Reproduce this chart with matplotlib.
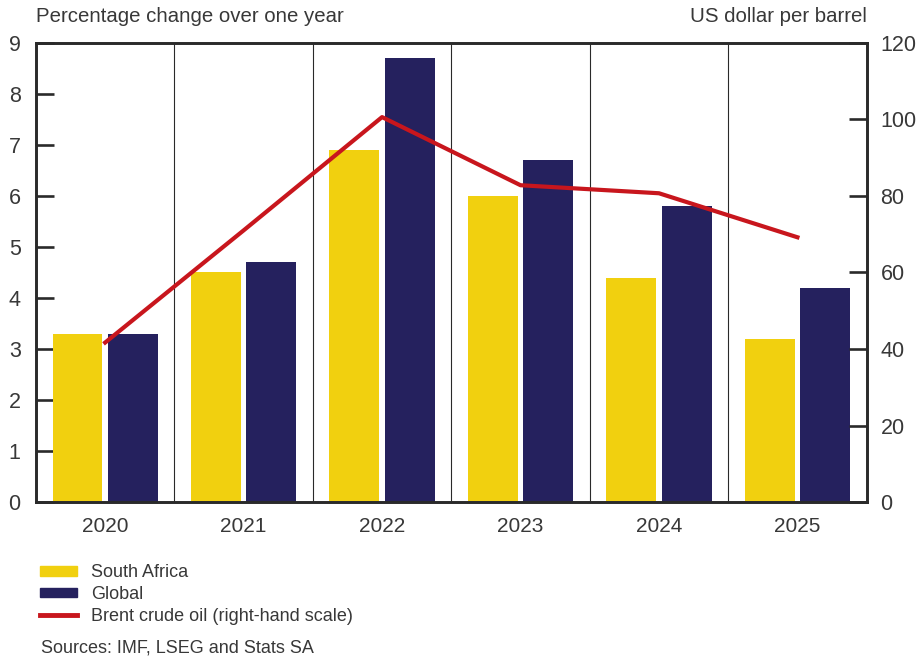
import numpy as np
import matplotlib
matplotlib.use("Agg")
import matplotlib.pyplot as plt
from matplotlib.patches import Patch
from matplotlib.lines import Line2D

years = ["2020", "2021", "2022", "2023", "2024", "2025"]
south_africa = [3.3, 4.5, 6.9, 6.0, 4.4, 3.2]
global_infl = [3.3, 4.7, 8.7, 6.7, 5.8, 4.2]
brent = [41.7, 71.0, 100.6, 82.8, 80.7, 69.2]

YELLOW = "#F1D00F"
NAVY = "#25215E"
RED = "#C8161D"
TEXT = "#383838"

plt.rcParams["font.family"] = ["Liberation Sans", "DejaVu Sans"]
plt.rcParams["font.size"] = 15

fig = plt.figure(figsize=(9.21, 6.59), dpi=100)
ax = fig.add_axes([0.039, 0.238, 0.902, 0.697])
ax2 = ax.twinx()

x = np.arange(len(years))
w = 0.36
ax.bar(x - 0.2, south_africa, w, color=YELLOW, zorder=2)
ax.bar(x + 0.2, global_infl, w, color=NAVY, zorder=2)

# thin separators between the year groups
for b in x[:-1] + 0.5:
    ax.axvline(b, color="#2a2a2a", lw=0.8, zorder=1)

ax2.plot(x, brent, color=RED, lw=3, zorder=3)

ax.set_xlim(-0.5, len(years) - 0.5)
ax.set_ylim(0, 9)
ax2.set_ylim(0, 120)
ax.set_yticks(range(0, 10))
ax2.set_yticks(range(0, 121, 20))
ax.set_xticks(x)
ax.set_xticklabels(years)

for a in (ax, ax2):
    for s in a.spines.values():
        s.set_linewidth(1.9)
        s.set_color("#2a2a2a")
ax.tick_params(axis="y", direction="in", length=13, width=1.9, color="#2a2a2a",
               labelcolor=TEXT, labelsize=15.5, pad=11)
ax2.tick_params(axis="y", direction="in", length=13, width=1.9, color="#2a2a2a",
                labelcolor=TEXT, labelsize=15.5, pad=10)
ax.tick_params(axis="x", length=0, labelcolor=TEXT, labelsize=15, pad=11)
ax.set_zorder(ax2.get_zorder() - 1)
ax.patch.set_visible(True)
ax2.patch.set_visible(False)

fig.text(0.039, 0.961, "Percentage change over one year", color=TEXT, fontsize=14.7,
         ha="left", va="bottom")
fig.text(0.941, 0.961, "US dollar per barrel", color=TEXT, fontsize=14.7,
         ha="right", va="bottom")

handles = [
    Patch(color=YELLOW, label="South Africa"),
    Patch(color=NAVY, label="Global"),
    Line2D([], [], color=RED, lw=3.5, label="Brent crude oil (right-hand scale)"),
]
fig.legend(handles=handles, loc="upper left", bbox_to_anchor=(0.043, 0.144),
           frameon=False, fontsize=13, labelcolor=TEXT, handlelength=2.05,
           handleheight=0.45, handletextpad=0.78, labelspacing=0.27, borderpad=0,
           borderaxespad=0)
fig.text(0.044, 0.004, "Sources: IMF, LSEG and Stats SA", color=TEXT, fontsize=13,
         ha="left", va="bottom")

fig.savefig("out.png", dpi=100)
